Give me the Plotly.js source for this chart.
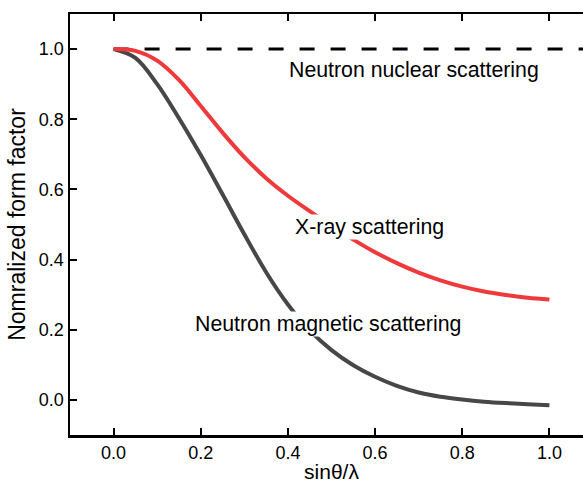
<!DOCTYPE html>
<html>
<head>
<meta charset="utf-8">
<script src="https://cdn.plot.ly/plotly-3.0.1.min.js"></script>
<style>
html,body{margin:0;padding:0;overflow:hidden;background:#fff;}
#chart{width:603px;height:487px;}
</style>
</head>
<body>
<div id="chart"></div>
<script>
// sinθ/λ sample positions
const q = [0, 0.05, 0.1, 0.15, 0.2, 0.25, 0.3, 0.35, 0.4, 0.45, 0.5, 0.55, 0.6, 0.65, 0.7, 0.75, 0.8, 0.85, 0.9, 0.95, 1.0];
// X-ray form factor (red)
const xray = [1.0, 0.995, 0.967, 0.912, 0.838, 0.762, 0.692, 0.632, 0.582, 0.538, 0.496, 0.457, 0.421, 0.390, 0.363, 0.341, 0.323, 0.309, 0.299, 0.291, 0.286];
// Neutron magnetic form factor (dark gray)
const magnetic = [1.0, 0.975, 0.900, 0.803, 0.698, 0.586, 0.472, 0.364, 0.272, 0.198, 0.142, 0.099, 0.066, 0.040, 0.021, 0.009, 0.001, -0.005, -0.009, -0.012, -0.015];
// Neutron nuclear (constant)
const nuclearX = [0, 1.1];
const nuclearY = [1.0, 1.0];
const tickVals = [0, 0.2, 0.4, 0.6, 0.8, 1.0];
const tickText = ["0.0", "0.2", "0.4", "0.6", "0.8", "1.0"];
const labels = ["Neutron nuclear scattering", "X-ray scattering", "Neutron magnetic scattering"];
const labelX = [0.689, 0.588, 0.492];
const labelY = [0.940, 0.492, 0.216];

const font = "Liberation Sans, Arial, Helvetica, sans-serif";

const traces = [
  {x: nuclearX, y: nuclearY, mode: "lines", line: {color: "#000", width: 3, dash: "15px,16px"}, hoverinfo: "skip"},
  {x: q, y: magnetic, mode: "lines", line: {color: "#474747", width: 4, shape: "spline", smoothing: 1}},
  {x: q, y: xray, mode: "lines", line: {color: "#ee3a3a", width: 4, shape: "spline", smoothing: 1}}
];

const axisCommon = {
  showgrid: false, zeroline: false, showline: true, linecolor: "#000", linewidth: 2.5,
  ticks: "inside", ticklen: 7, tickwidth: 2, tickcolor: "#000", mirror: "ticks",
  tickvals: tickVals, ticktext: tickText,
  tickfont: {family: font, size: 18, color: "#000"}
};

const layout = {
  width: 603, height: 487,
  margin: {l: 70, r: 10, t: 14, b: 52},
  paper_bgcolor: "#fff", plot_bgcolor: "#fff",
  showlegend: false,
  font: {family: font, color: "#000"},
  xaxis: Object.assign({}, axisCommon, {
    range: [-0.1, 1.1],
    title: {text: "sinθ/λ", font: {family: font, size: 21, color: "#000"}, standoff: 2}
  }),
  yaxis: Object.assign({}, axisCommon, {
    range: [-0.1, 1.1],
    title: {text: "Nomralized form factor", font: {family: font, size: 23, color: "#000"}, standoff: 7}
  }),
  annotations: labels.map((t, i) => ({
    x: labelX[i], y: labelY[i], xref: "x", yref: "y", text: t, showarrow: false,
    font: {family: font, size: 21.3, color: "#000"}, bgcolor: "#fff", borderpad: 0,
    xanchor: "center", yanchor: "middle"
  }))
};

Plotly.newPlot("chart", traces, layout, {displayModeBar: false, staticPlot: true});
</script>
</body>
</html>
